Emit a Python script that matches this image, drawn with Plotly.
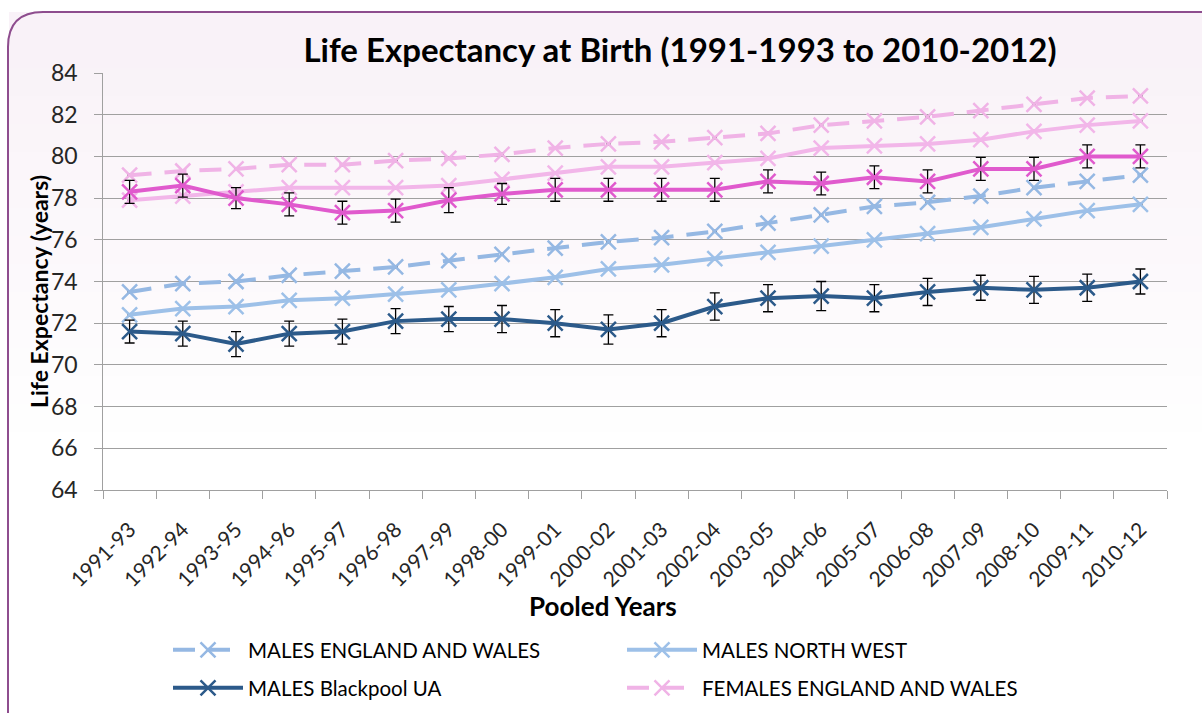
import plotly.graph_objects as go

# pooled periods on the x axis
periods = ['1991-93', '1992-94', '1993-95', '1994-96', '1995-97', '1996-98', '1997-99',
           '1998-00', '1999-01', '2000-02', '2001-03', '2002-04', '2003-05', '2004-06',
           '2005-07', '2006-08', '2007-09', '2008-10', '2009-11', '2010-12']

males_ew = [73.5, 73.9, 74.0, 74.3, 74.5, 74.7, 75.0, 75.3, 75.6, 75.9,
            76.1, 76.4, 76.8, 77.2, 77.6, 77.8, 78.1, 78.5, 78.8, 79.1]
males_nw = [72.4, 72.7, 72.8, 73.1, 73.2, 73.4, 73.6, 73.9, 74.2, 74.6,
            74.8, 75.1, 75.4, 75.7, 76.0, 76.3, 76.6, 77.0, 77.4, 77.7]
males_bp = [71.6, 71.5, 71.0, 71.5, 71.6, 72.1, 72.2, 72.2, 72.0, 71.7,
            72.0, 72.8, 73.2, 73.3, 73.2, 73.5, 73.7, 73.6, 73.7, 74.0]
males_bp_ci = [0.55, 0.6, 0.6, 0.6, 0.6, 0.6, 0.6, 0.65, 0.65, 0.7,
               0.65, 0.65, 0.65, 0.7, 0.65, 0.65, 0.6, 0.65, 0.65, 0.6]

females_ew = [79.1, 79.3, 79.4, 79.6, 79.6, 79.8, 79.9, 80.1, 80.4, 80.6,
              80.7, 80.9, 81.1, 81.5, 81.7, 81.9, 82.2, 82.5, 82.8, 82.9]
females_nw = [77.9, 78.1, 78.3, 78.5, 78.5, 78.5, 78.6, 78.9, 79.2, 79.5,
              79.5, 79.7, 79.9, 80.4, 80.5, 80.6, 80.8, 81.2, 81.5, 81.7]
females_bp = [78.3, 78.6, 78.0, 77.7, 77.3, 77.4, 77.9, 78.2, 78.4, 78.4,
              78.4, 78.4, 78.8, 78.7, 79.0, 78.8, 79.4, 79.4, 80.0, 80.0]
females_bp_ci = [0.55, 0.55, 0.5, 0.55, 0.55, 0.55, 0.6, 0.5, 0.55, 0.55,
                 0.55, 0.55, 0.55, 0.55, 0.55, 0.55, 0.55, 0.55, 0.55, 0.55]

FONT = 'Lato, sans-serif'

# plot area in pixels
L, R, T, B = 103, 1167, 73, 490
W, H = 1202, 713


def fx(px):
    return (px - L) / (R - L)


def fy(py):
    return (B - py) / (B - T)


def add_line(fig, y, name, color, dash='solid', ci=None, legend=None):
    if ci is not None:
        err = dict(type='data', array=ci, visible=True, color='black', thickness=1.3, width=5)
    else:
        err = dict(type='constant', value=0.03, visible=True, color='black', thickness=2, width=2)
    fig.add_trace(go.Scatter(
        x=periods, y=y, name=name, mode='lines+markers',
        line=dict(color=color, width=4, dash=dash),
        marker=dict(symbol='x-thin', size=15, line=dict(color=color, width=2.5)),
        error_y=err, showlegend=legend is not None, legend=legend or 'legend'
    ))


fig = go.Figure()
add_line(fig, males_ew, 'MALES ENGLAND AND WALES', '#95B8E3', dash='22px,13px', legend='legend')
add_line(fig, males_nw, 'MALES NORTH WEST', '#9DC0E8', legend='legend')
add_line(fig, males_bp, 'MALES Blackpool UA', '#2C5A8A', ci=males_bp_ci, legend='legend2')
add_line(fig, females_ew, 'FEMALES ENGLAND AND WALES', '#F0B3E6', dash='22px,13px', legend='legend2')
add_line(fig, females_nw, 'FEMALES NORTH WEST', '#F2B6E9')
add_line(fig, females_bp, 'FEMALES Blackpool UA', '#E05ACD', ci=females_bp_ci)

# soft pink gradient behind everything
shapes = []
n = 16
for i in range(n):
    y0 = 12 + i * 28
    t = i / (n - 1)
    r = int(249 + (255 - 249) * t)
    g = int(242 + (255 - 242) * t)
    b = int(248 + (255 - 248) * t)
    shapes.append(dict(type='rect', xref='paper', yref='paper', layer='below',
                       x0=fx(9), x1=fx(1210), y0=fy(y0), y1=fy(y0 + 29),
                       fillcolor=f'rgb({r},{g},{b})', line=dict(width=0)))

# rounded frame
path = (f'M {fx(8)},{fy(725)} L {fx(8)},{fy(47)} '
        f'Q {fx(8)},{fy(12)} {fx(43)},{fy(12)} L {fx(1215)},{fy(12)}')
shapes.append(dict(type='path', xref='paper', yref='paper', path=path,
                   line=dict(color='#8E4D8E', width=2)))

legend_style = dict(orientation='h', x=fx(168), xanchor='left', yanchor='middle',
                    itemwidth=70, entrywidth=369, entrywidthmode='pixels', traceorder='normal',
                    font=dict(size=20.5, color='black'), bgcolor='rgba(0,0,0,0)')

fig.update_layout(
    width=W, height=H,
    margin=dict(l=L, r=W - R, t=T, b=H - B, autoexpand=False),
    paper_bgcolor='white',
    plot_bgcolor='rgba(0,0,0,0)',
    font=dict(family=FONT, color='#262626'),
    title=dict(text='<b>Life Expectancy at Birth (1991-1993 to 2010-2012)</b>',
               x=fx(680), xref='paper', xanchor='center',
               y=1 - 50 / H, yref='container', yanchor='middle',
               font=dict(size=33, color='black', family=FONT)),
    shapes=shapes,
    showlegend=True,
    legend=dict(legend_style, y=fy(650)),
    legend2=dict(legend_style, y=fy(688)),
    annotations=[
        dict(text='<b>Life Expectancy (years)</b>', x=fx(39), y=fy(292), xref='paper', yref='paper',
             showarrow=False, textangle=-90, font=dict(size=23, color='black'),
             xanchor='center', yanchor='middle'),
        dict(text='<b>Pooled Years</b>', x=fx(603), y=fy(606), xref='paper', yref='paper',
             showarrow=False, font=dict(size=26, color='black'), xanchor='center', yanchor='middle'),
    ],
)

fig.update_xaxes(
    type='category', range=[-0.5, 19.5], tickson='boundaries', ticks='outside', ticklen=8,
    tickcolor='#A0A0A0', showline=True, linecolor='#A0A0A0', linewidth=1, showgrid=False,
    tickangle=-45, tickfont=dict(size=21, color='#262626'), ticklabelstandoff=18,
)
fig.update_yaxes(
    range=[64, 84], dtick=2, tick0=64, ticks='outside', ticklen=8, tickcolor='#A0A0A0',
    showline=True, linecolor='#A0A0A0', linewidth=1,
    showgrid=True, gridcolor='#A0A0A0', gridwidth=1, zeroline=False,
    tickfont=dict(size=23, color='#262626'), ticksuffix='\u00a0\u00a0',
)

fig.write_html("out.html", config={'displayModeBar': False},
               post_script="document.body.style.margin='0';")
